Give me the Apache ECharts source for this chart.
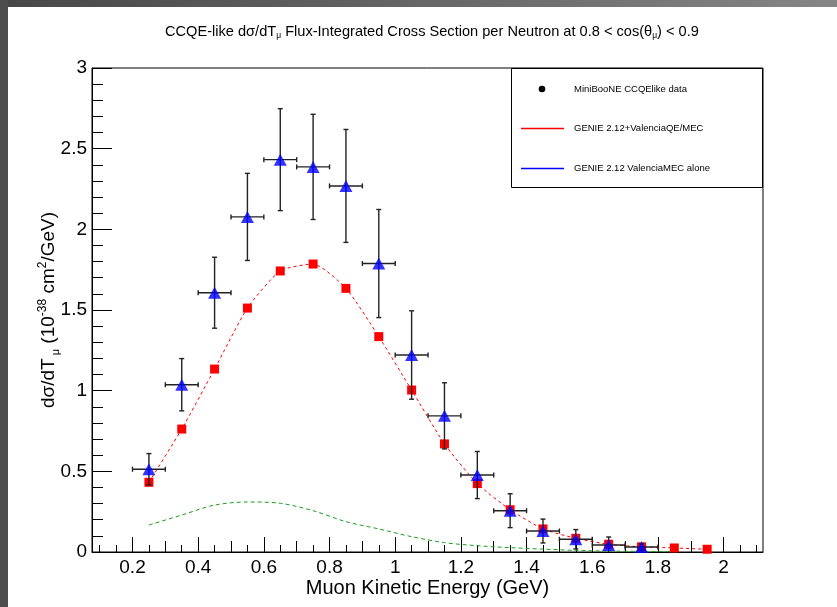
<!DOCTYPE html>
<html><head><meta charset="utf-8">
<script src="https://cdn.jsdelivr.net/npm/echarts@6/dist/echarts.min.js"></script>
<style>
html,body{margin:0;padding:0;background:#fff;width:837px;height:607px;overflow:hidden}
#c{position:absolute;left:0;top:0;width:837px;height:607px}
#l{position:absolute;left:0;top:0;width:8px;height:607px;background:#4d4d4d;z-index:5}
#t{position:absolute;left:0;top:0;width:837px;height:7px;background:linear-gradient(to right,#474747,#858585);z-index:5}
</style></head><body>
<div id="c"></div><div id="t"></div><div id="l"></div>
<script>
// ---- data ----
const dataX = [0.25,0.35,0.45,0.55,0.65,0.75,0.85,0.95,1.05,1.15,1.25,1.35,1.45,1.55,1.65,1.75];
const dataY = [0.513,1.037,1.607,2.077,2.432,2.387,2.269,1.788,1.221,0.844,0.477,0.256,0.130,0.079,0.043,0.031];
const dataErr = [0.097,0.162,0.220,0.270,0.316,0.326,0.350,0.335,0.274,0.205,0.146,0.105,0.074,0.060,0.050,0.020];
const binHalfWidth = 0.05;
const modelX = [0.25,0.35,0.45,0.55,0.65,0.75,0.85,0.95,1.05,1.15,1.25,1.35,1.45,1.55,1.65,1.75,1.85,1.95];
const fullModel = [0.432,0.762,1.134,1.512,1.742,1.785,1.634,1.335,1.004,0.670,0.424,0.262,0.143,0.085,0.048,0.032,0.025,0.017];
const mecX = [0.25,0.35,0.45,0.55,0.65,0.75,0.85,0.95,1.05,1.15,1.25,1.35,1.45,1.55,1.65,1.75,1.85];
const mecOnly = [0.167,0.229,0.291,0.310,0.302,0.256,0.188,0.143,0.095,0.058,0.039,0.027,0.018,0.010,0.006,0.004,0.002];
const xMajorTicks = [0.2,0.4,0.6,0.8,1,1.2,1.4,1.6,1.8,2];
const xMidTicks = [0.3,0.5,0.7,0.9,1.1,1.3,1.5,1.7,1.9];
const xMinorTicks = [0.1,0.15,0.25,0.35,0.45,0.55,0.65,0.75,0.85,0.95,1.05,1.15,1.25,1.35,1.45,1.55,1.65,1.75,1.85,1.95,2.05,2.1];
const xMin = 0.0767, xMax = 2.12;
const yMin = 0, yMax = 3, yStep = 0.5;

const FONT = '"Liberation Sans", Arial, Helvetica, sans-serif';
const chart = echarts.init(document.getElementById('c'), null, {renderer:'canvas'});

function xAxisDef(ticks, len, main){
  return {
    type:'value', min:xMin, max:xMax, position:'bottom',
    axisLine:{show:main, lineStyle:{color:'#000', width:1}},
    splitLine:{show:false},
    axisTick:{show:true, inside:true, length:len, customValues:ticks, lineStyle:{color:'#000', width:1}},
    axisLabel: main ? {show:true, customValues:xMajorTicks, margin:6, fontSize:19, color:'#000', fontFamily:FONT,
      formatter: v => String(Math.round(v*10)/10)} : {show:false},
    name: main ? 'Muon Kinetic Energy (GeV)' : '',
    nameLocation:'middle', nameGap:26, nameMoveOverlap:false,
    nameTextStyle:{fontSize:20, color:'#000', fontFamily:FONT}
  };
}

const option = {
  animation:false,
  backgroundColor:'transparent',
  title:{
    text:'{a|CCQE-like dσ/dT}{s|μ}{a| Flux-Integrated Cross Section per Neutron at 0.8 < cos(θ}{s|μ}{a|) < 0.9}',
    left:160, top:18,
    textStyle:{fontFamily:FONT, fontWeight:'normal', color:'#000',
      rich:{
        a:{fontSize:14.6, fontFamily:FONT, color:'#000', lineHeight:17},
        s:{fontSize:8.5, fontFamily:FONT, color:'#000', verticalAlign:'bottom', lineHeight:8}
      }}
  },
  grid:{left:92, top:68, right:74, bottom:55, show:true, borderColor:'#000', borderWidth:1, backgroundColor:'#fff'},
  xAxis:[ xAxisDef(xMajorTicks,15,true), xAxisDef(xMidTicks,11,false), xAxisDef(xMinorTicks,7,false) ],
  yAxis:{
    type:'value', min:yMin, max:yMax, interval:yStep,
    axisLine:{show:true, lineStyle:{color:'#000', width:1}},
    splitLine:{show:false},
    axisTick:{show:true, inside:true, length:20, lineStyle:{color:'#000'}},
    minorTick:{show:true, splitNumber:5, length:11, lineStyle:{color:'#000'}},
    minorSplitLine:{show:false},
    axisLabel:{margin:5, fontSize:19, color:'#000', fontFamily:FONT},
    name:'{a|dσ/dT}{s| μ}{a| (10}{p|-38}{a| cm}{p|2}{a|/GeV)}',
    nameLocation:'middle', nameGap:31, nameRotate:90, nameMoveOverlap:false,
    nameTextStyle:{fontFamily:FONT, color:'#000',
      rich:{
        a:{fontSize:19, fontFamily:FONT, color:'#000', lineHeight:24},
        s:{fontSize:11, fontFamily:FONT, color:'#000', verticalAlign:'bottom', lineHeight:11},
        p:{fontSize:12, fontFamily:FONT, color:'#000', verticalAlign:'top', lineHeight:12}
      }}
  },
  series:[
    {
      name:'MEC', type:'line', xAxisIndex:0, z:2,
      data: mecX.map((x,i)=>[x, mecOnly[i]]),
      smooth:0.3, showSymbol:false, symbol:'none',
      lineStyle:{color:'#1e9e1e', width:1, type:[4,3]}
    },
    {
      name:'Full', type:'line', xAxisIndex:0, z:3,
      data: modelX.map((x,i)=>[x, fullModel[i]]),
      smooth:0.2, symbol:'rect', symbolSize:9,
      itemStyle:{color:'#ff0000'},
      lineStyle:{color:'#ff0000', width:1, type:[3,3]}
    },
    {
      name:'err', type:'custom', xAxisIndex:0, z:4,
      data: dataX.map((x,i)=>[x, dataY[i], dataErr[i]]),
      renderItem:(params, api)=>{
        const x = api.value(0), y = api.value(1), e = api.value(2);
        const lo = Math.max(y - e, yMin);
        const pTop = api.coord([x, y + e]);
        const pBot = api.coord([x, lo]);
        const pL = api.coord([x - binHalfWidth, y]);
        const pR = api.coord([x + binHalfWidth, y]);
        const cap = 2.5;
        const st = {stroke:'#222', lineWidth:1.4};
        const L = (x1,y1,x2,y2)=>({type:'line', shape:{x1,y1,x2,y2}, style:st});
        const ch = [
          L(pTop[0],pTop[1],pBot[0],pBot[1]),
          L(pTop[0]-cap,pTop[1],pTop[0]+cap,pTop[1]),
          L(pL[0],pL[1],pR[0],pR[1]),
          L(pL[0],pL[1]-cap,pL[0],pL[1]+cap),
          L(pR[0],pR[1]-cap,pR[0],pR[1]+cap)
        ];
        if (y - e > yMin) ch.push(L(pBot[0]-cap,pBot[1],pBot[0]+cap,pBot[1]));
        return {type:'group', children:ch};
      }
    },
    {
      name:'Data', type:'scatter', xAxisIndex:0, z:5,
      data: dataX.map((x,i)=>[x, dataY[i]]),
      symbol:'triangle', symbolSize:[13,12],
      itemStyle:{color:'#0000ff'}
    }
  ],
  graphic:[
    {type:'group', z:100, children:[
      {type:'rect', shape:{x:511.5, y:68.5, width:251, height:119}, style:{fill:'#fff', stroke:'#000', lineWidth:1}},
      {type:'circle', shape:{cx:542, cy:89, r:3.3}, style:{fill:'#000'}},
      {type:'line', shape:{x1:521, y1:128.5, x2:564, y2:128.5}, style:{stroke:'#ff0000', lineWidth:1.5}},
      {type:'line', shape:{x1:521, y1:168.5, x2:564, y2:168.5}, style:{stroke:'#0000ff', lineWidth:1.5}},
      {type:'text', x:574, y:89, style:{text:'MiniBooNE CCQElike data', fontSize:9.5, fontFamily:FONT, fill:'#000', verticalAlign:'middle'}},
      {type:'text', x:574, y:128.5, style:{text:'GENIE 2.12+ValenciaQE/MEC', fontSize:9.5, fontFamily:FONT, fill:'#000', verticalAlign:'middle'}},
      {type:'text', x:574, y:168.5, style:{text:'GENIE 2.12 ValenciaMEC alone', fontSize:9.5, fontFamily:FONT, fill:'#000', verticalAlign:'middle'}}
    ]}
  ]
};
chart.setOption(option);
</script>
</body></html>
